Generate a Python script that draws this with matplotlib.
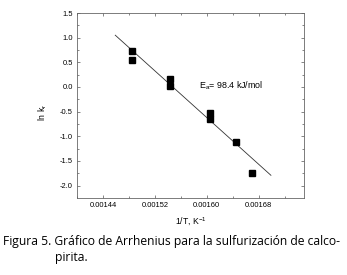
#!/usr/bin/env python3
"""
Arrhenius plot for chalcopyrite sulfurization (figure 5)
"""
import matplotlib.pyplot as plt
from matplotlib.ticker import MultipleLocator


# data
inv_T = [0.001485, 0.001485, 0.001543, 0.001543, 0.001605, 0.001605, 0.001645, 0.001670]
ln_k = [0.72, 0.54, 0.16, 0.03, -0.52, -0.64, -1.11, -1.74]

fit_x = [0.001459, 0.001699]
fit_y = [1.05, -1.79]

xticks = [0.00144, 0.00152, 0.00160, 0.00168]
xticklabels = ["0.00144", "0.00152", "0.00160", "0.00168"]
yticks = [1.5, 1.0, 0.5, 0.0, -0.5, -1.0, -1.5, -2.0]
yticklabels = ["1.5", "1.0", "0.5", "0.0", "-0.5", "-1.0", "-1.5", "-2.0"]

caption1 = "Figura 5. Gráfico de Arrhenius para la sulfurización de calco-"
caption2 = "pirita."


def main():
    plt.rcParams["font.family"] = ["Liberation Sans", "DejaVu Sans"]
    fig = plt.figure(figsize=(3.47, 2.75), dpi=100)
    ax = fig.add_axes([77/347, 1 - 197.5/275, 227/347, 184.5/275])

    ax.plot(fit_x, fit_y, color="#333333", lw=0.6)
    ax.plot(inv_T, ln_k, ls="none", marker="s", ms=4.0, color="black")

    ax.set_xlim(0.0014, 0.00175)
    ax.set_ylim(-2.24, 1.5)
    ax.set_xticks(xticks)
    ax.set_xticklabels(xticklabels)
    ax.set_yticks(yticks)
    ax.set_yticklabels(yticklabels)
    ax.xaxis.set_minor_locator(MultipleLocator(0.00004))
    ax.yaxis.set_minor_locator(MultipleLocator(0.25))
    ax.tick_params(which="both", direction="in", top=True, right=True,
                   labelsize=5.4, width=0.5, color="#555555", pad=3)
    ax.tick_params(which="major", length=2.5)
    ax.tick_params(which="minor", length=1.3)
    for s in ax.spines.values():
        s.set_linewidth(0.6)
        s.set_color("#666666")

    ax.text(0.001588, -0.03, r"E$_\mathregular{a}$= 98.4 kJ/mol", fontsize=6.4)

    ax.set_xlabel("1/T, K$^\\mathregular{-1}$", fontsize=6.2, labelpad=5)
    ax.set_ylabel(r"ln k$_\mathregular{r}$", fontsize=6.2, labelpad=4)
    ax.yaxis.set_label_coords(-0.125, 0.46)

    fig.text(3/347, 1 - 242/275, caption1, fontsize=8.7, family="Open Sans",
             va="center", ha="left")
    fig.text(55/347, 1 - 257/275, caption2, fontsize=8.7, family="Open Sans",
             va="center", ha="left")

    fig.savefig("out.png", dpi=100)


if __name__ == '__main__':
    main()
